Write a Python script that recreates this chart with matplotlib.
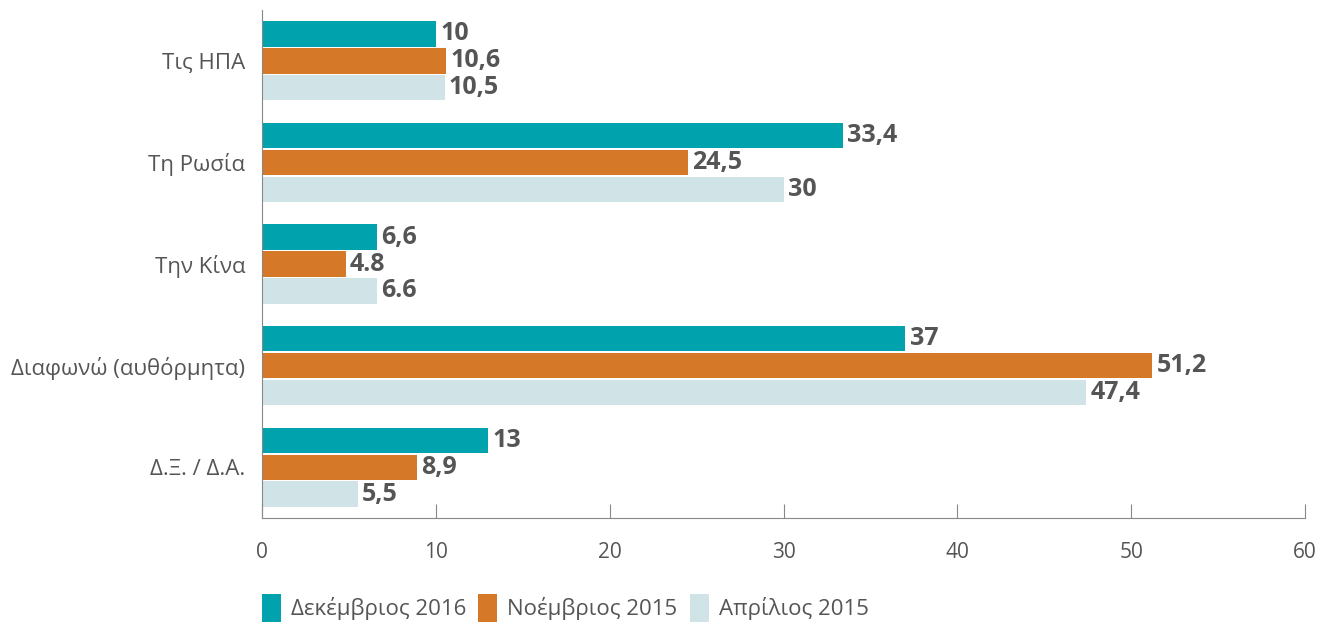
import numpy as np
import matplotlib.pyplot as plt
from matplotlib.patches import Patch

categories = ['Τις ΗΠΑ', 'Τη Ρωσία', 'Την Κίνα', 'Διαφωνώ (αυθόρμητα)', 'Δ.Ξ. / Δ.Α.']
series_names = ['Δεκέμβριος 2016', 'Νοέμβριος 2015', 'Απρίλιος 2015']
dec2016 = [10, 33.4, 6.6, 37, 13]
nov2015 = [10.6, 24.5, 4.8, 51.2, 8.9]
apr2015 = [10.5, 30, 6.6, 47.4, 5.5]
dec2016_labels = ['10', '33,4', '6,6', '37', '13']
nov2015_labels = ['10,6', '24,5', '4.8', '51,2', '8,9']
apr2015_labels = ['10,5', '30', '6.6', '47,4', '5,5']
colors = ['#00A3AD', '#D57828', '#D0E4E8']
xticks = [0, 10, 20, 30, 40, 50, 60]


def main():
    plt.rcParams['font.family'] = ['Open Sans', 'DejaVu Sans']
    fig = plt.figure(figsize=(13.33, 6.26), dpi=100)
    ax = fig.add_axes([0.1966, 0.1725, 0.7824, 0.8115])

    y = np.arange(len(categories))
    offs = [-0.265, 0.0, 0.265]
    h = 0.25
    data = [dec2016, nov2015, apr2015]
    labels = [dec2016_labels, nov2015_labels, apr2015_labels]
    for vals, labs, off, col in zip(data, labels, offs, colors):
        bars = ax.barh(y + off, vals, height=h, color=col)
        for b, lab in zip(bars, labs):
            ax.text(b.get_width() + 0.25, b.get_y() + b.get_height() / 2, lab,
                    va='center', ha='left', fontsize=18, fontweight='bold',
                    color='#555555')

    ax.set_ylim(4.5, -0.5)
    ax.set_xlim(0, 60)
    ax.set_yticks(y)
    ax.set_yticklabels(categories, fontsize=16, color='#555555')
    ax.set_xticks(xticks)
    ax.set_xticklabels([str(t) for t in xticks], fontsize=15, color='#555555')
    ax.tick_params(axis='y', length=0, pad=12)
    ax.tick_params(axis='x', direction='in', length=10, color='#888888', pad=17)

    for s in ['top', 'right']:
        ax.spines[s].set_visible(False)
    ax.spines['left'].set_color('#888888')
    ax.spines['bottom'].set_color('#888888')

    handles = [Patch(facecolor=c, edgecolor='none') for c in colors]
    fig.legend(handles, series_names, loc='lower left',
               bbox_to_anchor=(0.1815, -0.026), ncol=3, frameon=False,
               fontsize=16, handlelength=0.85, handleheight=1.6,
               handletextpad=0.45, columnspacing=0.55, labelcolor='#555555')

    fig.savefig('out.png', dpi=100)


if __name__ == '__main__':
    main()
